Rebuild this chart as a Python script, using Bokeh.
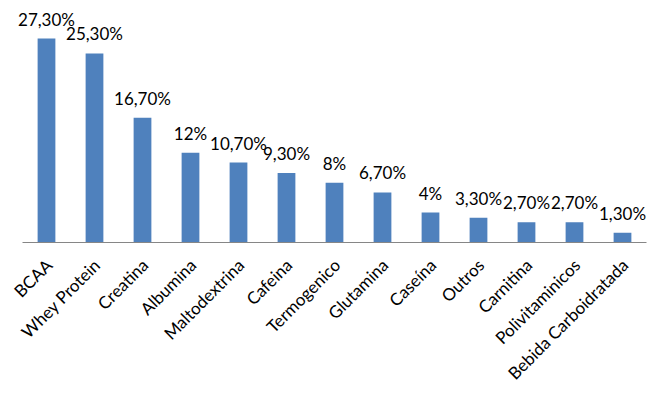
import math
from bokeh.plotting import figure
from bokeh.models import ColumnDataSource, LabelSet, Range1d
from bokeh.core.properties import value
from bokeh.embed import file_html
from bokeh.resources import INLINE

categories = ["BCAA", "Whey Protein", "Creatina", "Albumina", "Maltodextrina", "Cafeina",
              "Termogenico", "Glutamina", "Caseína", "Outros", "Carnitina",
              "Polivitaminicos", "Bebida Carboidratada"]
values = [27.3, 25.3, 16.7, 12.0, 10.7, 9.3, 8.0, 6.7, 4.0, 3.3, 2.7, 2.7, 1.3]
value_labels = ["27,30%", "25,30%", "16,70%", "12%", "10,70%", "9,30%", "8%",
                "6,70%", "4%", "3,30%", "2,70%", "2,70%", "1,30%"]

n = len(categories)
xs = [i + 0.5 for i in range(n)]
src = ColumnDataSource(dict(x=xs, cat=categories, val=values, lab=value_labels,
                            zero=[0] * n))

FONT = value("Lato")
W, H = 663, 395
px_per_cat = 48.0
px_per_unit = 204 / 27.3
base_px = 242
left_px = 22

p = figure(width=W, height=H, output_backend="svg", toolbar_location=None,
           x_range=Range1d(-left_px / px_per_cat, (W - left_px) / px_per_cat),
           y_range=Range1d(-(H - base_px) / px_per_unit, base_px / px_per_unit),
           min_border_left=0, min_border_right=0, min_border_top=0, min_border_bottom=0)

p.vbar(x="x", top="val", width=0.37, source=src, color="#4F81BD", line_color=None)

# category axis line
p.segment(x0=[0], y0=[0], x1=[n], y1=[0], line_color="#868686", line_width=1)

labels = LabelSet(x="x", y="val", text="lab", source=src, text_align="center",
                  text_baseline="alphabetic", y_offset=13, text_font=FONT,
                  text_font_size="17px", text_color="#000000")
p.add_layout(labels)

cat_labels = LabelSet(x="x", y="zero", text="cat", source=src, angle=math.pi / 4,
                      text_align="right", text_baseline="top", x_offset=-5, y_offset=-12,
                      text_font=FONT, text_font_size="17px", text_color="#000000")
p.add_layout(cat_labels)

p.xaxis.visible = False
p.yaxis.visible = False
p.xgrid.grid_line_color = None
p.ygrid.grid_line_color = None
p.outline_line_color = None

open("out.html", "w").write(file_html(p, INLINE))
